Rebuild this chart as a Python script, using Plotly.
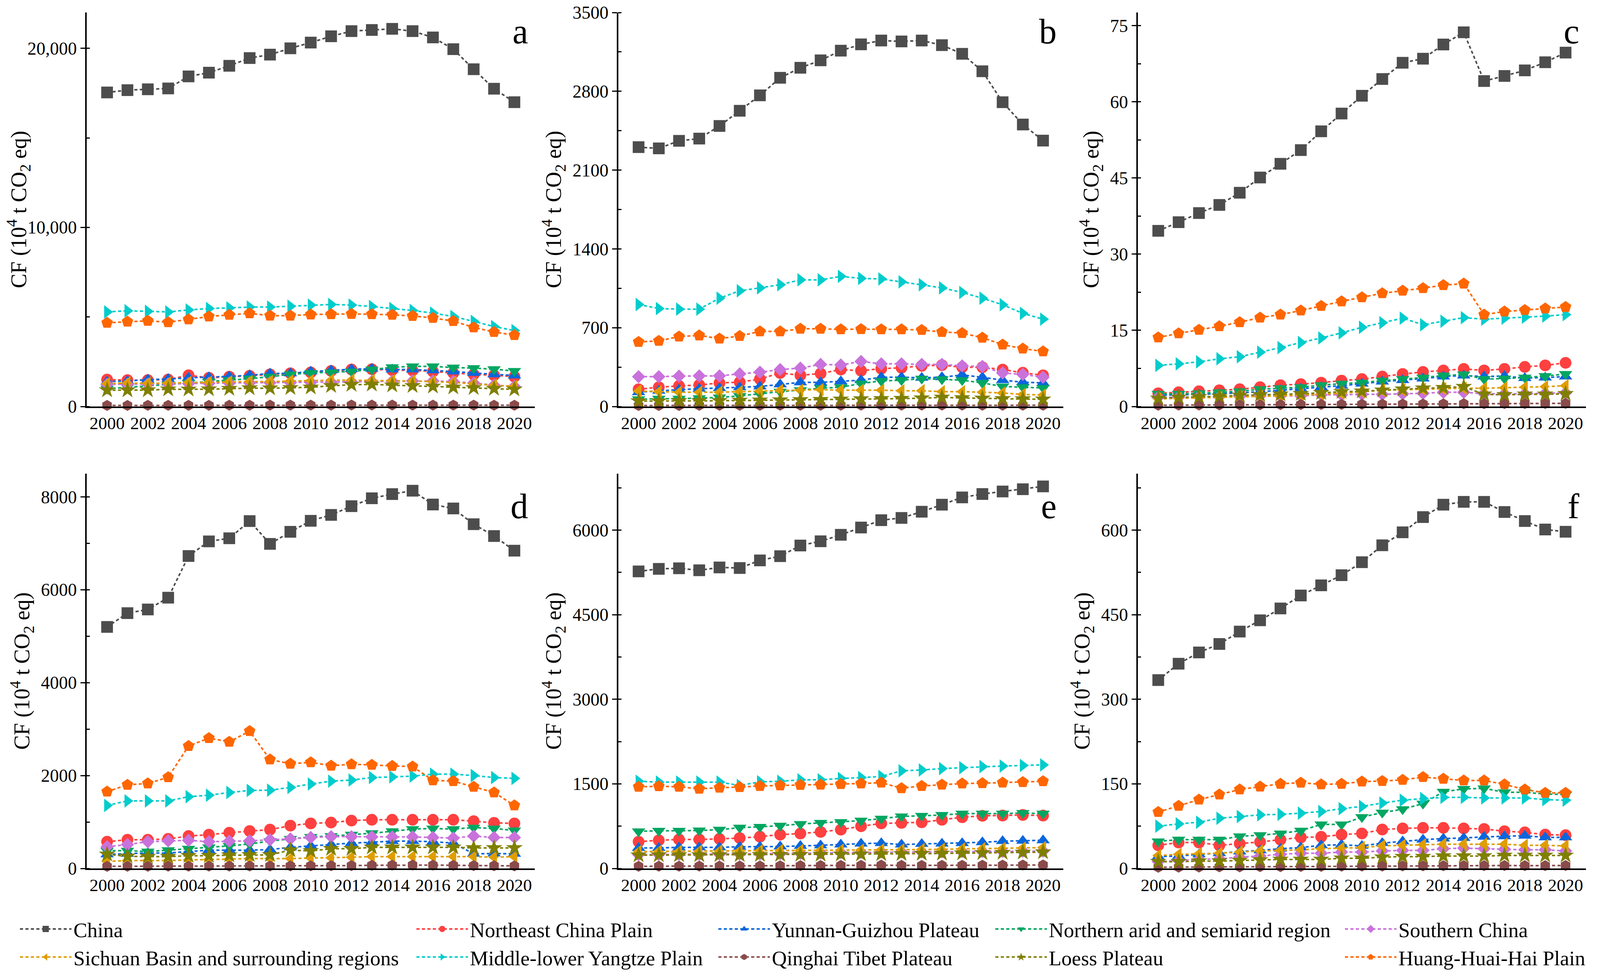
import plotly.graph_objects as go

W, H = 4117, 2502

YEARS = list(range(2000, 2021))

REGIONS = [
    "China", "Northeast China Plain", "Yunnan-Guizhou Plateau",
    "Northern arid and semiarid region", "Southern China",
    "Sichuan Basin and surrounding regions", "Middle-lower Yangtze Plain",
    "Qinghai Tibet Plateau", "Loess Plateau", "Huang-Huai-Hai Plain",
]

COLORS = {
    "China": "#4D4D4D",
    "Northeast China Plain": "#FF4040",
    "Yunnan-Guizhou Plateau": "#0A66DC",
    "Northern arid and semiarid region": "#00A661",
    "Southern China": "#C972DC",
    "Sichuan Basin and surrounding regions": "#DF9D00",
    "Middle-lower Yangtze Plain": "#00CCCC",
    "Qinghai Tibet Plateau": "#8A4B4B",
    "Loess Plateau": "#7F7F00",
    "Huang-Huai-Hai Plain": "#FF6600",
}

SYMBOLS = {
    "China": "square",
    "Northeast China Plain": "circle",
    "Yunnan-Guizhou Plateau": "triangle-up",
    "Northern arid and semiarid region": "triangle-down",
    "Southern China": "diamond",
    "Sichuan Basin and surrounding regions": "triangle-left",
    "Middle-lower Yangtze Plain": "triangle-right",
    "Qinghai Tibet Plateau": "hexagon",
    "Loess Plateau": "star",
    "Huang-Huai-Hai Plain": "pentagon",
}

SIZES = {
    "square": 30, "circle": 30, "triangle-up": 30, "triangle-down": 30,
    "diamond": 26, "triangle-left": 30, "triangle-right": 30,
    "hexagon": 28, "star": 32, "pentagon": 31,
}

# ---------------- panel a ----------------
PANEL_A = {
    "China": [17536, 17664, 17712, 17760, 18432, 18640, 19024, 19456, 19648, 20000, 20320,
              20672, 20960, 21024, 21088, 20960, 20608, 19952, 18832, 17744, 16992],
    "Northeast China Plain": [1504, 1472, 1472, 1504, 1744, 1600, 1664, 1712, 1792, 1856, 1904,
                              1984, 2064, 2080, 2032, 2016, 1952, 1872, 1792, 1744, 1664],
    "Yunnan-Guizhou Plateau": [1392, 1424, 1504, 1536, 1600, 1632, 1680, 1744, 1840, 1856, 1952,
                               2016, 2080, 2112, 2064, 2064, 2016, 1952, 1872, 1792, 1728],
    "Northern arid and semiarid region": [992, 1072, 1152, 1232, 1312, 1392, 1472, 1552, 1664, 1792, 1872,
                                          1904, 1952, 2064, 2192, 2240, 2240, 2176, 2144, 2080, 1984],
    "Southern China": [1232, 1240, 1250, 1260, 1280, 1300, 1310, 1320, 1330, 1340, 1345,
                       1360, 1380, 1400, 1410, 1424, 1420, 1392, 1312, 1190, 1120],
    "Sichuan Basin and surrounding regions": [1280, 1312, 1290, 1310, 1344, 1344, 1376, 1390, 1392, 1424, 1440,
                                              1472, 1470, 1445, 1440, 1424, 1390, 1344, 1264, 1184, 1120],
    "Middle-lower Yangtze Plain": [5280, 5344, 5312, 5280, 5392, 5472, 5504, 5552, 5552, 5600, 5664,
                                   5696, 5664, 5584, 5472, 5360, 5216, 5024, 4752, 4464, 4240],
    "Qinghai Tibet Plateau": [60, 62, 63, 64, 66, 68, 70, 72, 74, 75, 77,
                              78, 80, 80, 80, 79, 78, 76, 74, 72, 70],
    "Loess Plateau": [912, 910, 915, 960, 958, 965, 992, 1024, 1020, 1040, 1072,
                      1152, 1216, 1232, 1184, 1152, 1120, 1072, 1040, 992, 960],
    "Huang-Huai-Hai Plain": [4672, 4736, 4784, 4704, 4864, 5024, 5120, 5200, 5072, 5072, 5136,
                             5152, 5168, 5152, 5120, 5056, 4944, 4768, 4416, 4160, 3984],
}

# ---------------- panel b ----------------
PANEL_B = {
    "China": [2304, 2293, 2360, 2380, 2492, 2627, 2764, 2920, 3009, 3075, 3161,
              3217, 3251, 3243, 3251, 3210, 3133, 2978, 2703, 2505, 2362],
    "Northeast China Plain": [153, 171, 183, 191, 209, 216, 244, 298, 277, 293, 328,
                              318, 336, 344, 361, 367, 349, 349, 328, 300, 277],
    "Yunnan-Guizhou Plateau": [127, 140, 150, 158, 163, 171, 178, 196, 214, 214, 224,
                               234, 260, 260, 255, 260, 280, 260, 234, 216, 209],
    "Northern arid and semiarid region": [64, 69, 69, 74, 81, 94, 112, 132, 145, 163, 171,
                                          204, 227, 234, 247, 242, 234, 209, 178, 171, 165],
    "Southern China": [265, 265, 270, 272, 272, 290, 305, 328, 341, 374, 369,
                       400, 379, 379, 374, 374, 361, 356, 298, 285, 260],
    "Sichuan Basin and surrounding regions": [137, 132, 127, 127, 127, 132, 137, 143, 145, 150, 145,
                                              145, 145, 140, 140, 132, 132, 127, 120, 107, 102],
    "Middle-lower Yangtze Plain": [906, 870, 865, 865, 962, 1028, 1054, 1082, 1125, 1125, 1156,
                                   1138, 1133, 1107, 1082, 1054, 1013, 962, 904, 827, 776],
    "Qinghai Tibet Plateau": [9, 9, 9, 10, 10, 10, 10, 11, 11, 11, 11,
                              12, 12, 12, 12, 12, 12, 11, 11, 11, 11],
    "Loess Plateau": [48, 48, 49, 50, 51, 53, 55, 57, 58, 60, 64,
                      66, 68, 70, 74, 81, 76, 72, 68, 66, 64],
    "Huang-Huai-Hai Plain": [573, 583, 621, 631, 603, 626, 667, 667, 690, 690, 685,
                             687, 685, 685, 680, 662, 652, 611, 550, 514, 489],
}

# ---------------- panel c ----------------
PANEL_C = {
    "China": [34.6, 36.3, 38.1, 39.7, 42.1, 45.1, 47.8, 50.5, 54.2, 57.7, 61.2,
              64.5, 67.7, 68.5, 71.3, 73.7, 64.1, 65.1, 66.2, 67.8, 69.7],
    "Northeast China Plain": [2.6, 2.8, 3.0, 3.2, 3.4, 3.8, 4.2, 4.4, 4.7, 5.1, 5.4,
                              5.9, 6.4, 6.8, 7.1, 7.4, 7.1, 7.4, 7.8, 8.1, 8.6],
    "Yunnan-Guizhou Plateau": [2.2, 2.3, 2.4, 2.5, 2.7, 2.9, 3.2, 3.5, 3.8, 4.1, 4.5,
                               4.9, 5.2, 5.5, 5.9, 6.1, 5.9, 6.0, 5.6, 5.7, 5.9],
    "Northern arid and semiarid region": [2.5, 2.5, 2.6, 2.8, 3.0, 3.4, 3.6, 3.8, 4.2, 4.5, 4.7,
                                          5.1, 5.4, 5.7, 6.1, 6.3, 5.4, 5.5, 5.7, 6.0, 6.4],
    "Southern China": [1.8, 1.8, 1.9, 1.9, 2.0, 2.1, 2.1, 2.1, 2.3, 2.3, 2.4,
                       2.4, 2.5, 2.6, 2.8, 2.8, 2.5, 2.5, 2.5, 2.6, 2.7],
    "Sichuan Basin and surrounding regions": [1.5, 1.6, 1.7, 1.8, 1.9, 2.0, 2.1, 2.3, 2.4, 2.6, 2.9,
                                              3.2, 3.3, 3.4, 3.5, 3.6, 3.6, 3.7, 3.8, 3.9, 4.1],
    "Middle-lower Yangtze Plain": [8.1, 8.4, 8.8, 9.4, 9.8, 10.7, 11.6, 12.6, 13.5, 14.5, 15.6,
                                   16.5, 17.4, 16.1, 16.8, 17.5, 17.2, 17.4, 17.6, 17.8, 18.1],
    "Qinghai Tibet Plateau": [0.25, 0.27, 0.28, 0.3, 0.32, 0.34, 0.36, 0.38, 0.4, 0.42, 0.44,
                              0.46, 0.48, 0.5, 0.52, 0.55, 0.55, 0.57, 0.58, 0.6, 0.62],
    "Loess Plateau": [1.6, 1.8, 1.9, 2.0, 2.2, 2.3, 2.4, 2.5, 2.7, 2.9, 3.0,
                      3.2, 3.4, 3.6, 3.7, 3.9, 2.4, 2.3, 2.4, 2.4, 2.5],
    "Huang-Huai-Hai Plain": [13.6, 14.4, 15.1, 15.8, 16.6, 17.5, 18.1, 18.9, 19.8, 20.7, 21.5,
                             22.3, 22.8, 23.3, 23.9, 24.2, 18.1, 18.7, 19.0, 19.3, 19.6],
}

# ---------------- panel d ----------------
PANEL_D = {
    "China": [5200, 5497, 5576, 5830, 6727, 7042, 7109, 7479, 6988, 7248, 7485,
              7612, 7800, 7970, 8060, 8133, 7836, 7751, 7412, 7157, 6842],
    "Northeast China Plain": [576, 618, 618, 636, 697, 727, 770, 806, 836, 921, 970,
                              988, 1030, 1048, 1048, 1048, 1048, 1048, 1018, 982, 970],
    "Yunnan-Guizhou Plateau": [303, 315, 333, 333, 364, 394, 394, 394, 406, 455, 485,
                               515, 545, 564, 588, 588, 576, 545, 315, 321, 315],
    "Northern arid and semiarid region": [382, 382, 364, 394, 424, 455, 485, 527, 588, 636, 679,
                                          697, 727, 758, 800, 848, 860, 848, 879, 860, 818],
    "Southern China": [467, 515, 576, 594, 606, 576, 588, 594, 618, 636, 667,
                       685, 685, 679, 679, 679, 667, 654, 697, 667, 667],
    "Sichuan Basin and surrounding regions": [151, 170, 170, 170, 182, 194, 200, 212, 212, 212, 224,
                                              230, 242, 255, 255, 255, 255, 255, 255, 242, 255],
    "Middle-lower Yangtze Plain": [1357, 1454, 1454, 1454, 1545, 1576, 1636, 1679, 1685, 1745, 1818,
                                   1879, 1903, 1957, 1970, 1988, 2030, 2030, 2000, 1957, 1939],
    "Qinghai Tibet Plateau": [45, 46, 47, 48, 49, 50, 51, 52, 53, 54, 56,
                              58, 62, 68, 72, 74, 72, 68, 62, 58, 55],
    "Loess Plateau": [303, 261, 255, 255, 273, 273, 285, 291, 291, 394, 376,
                      424, 424, 455, 455, 455, 455, 455, 442, 442, 442],
    "Huang-Huai-Hai Plain": [1654, 1800, 1830, 1963, 2636, 2806, 2727, 2957, 2345, 2254, 2285,
                             2212, 2242, 2230, 2206, 2194, 1897, 1879, 1757, 1636, 1357],
}

# ---------------- panel e ----------------
PANEL_E = {
    "China": [5267, 5312, 5322, 5287, 5337, 5327, 5462, 5537, 5726, 5801, 5916,
              6045, 6175, 6215, 6325, 6450, 6579, 6639, 6684, 6724, 6774],
    "Northeast China Plain": [474, 499, 514, 514, 524, 539, 564, 599, 619, 648, 688,
                              748, 798, 808, 818, 863, 908, 933, 938, 948, 938],
    "Yunnan-Guizhou Plateau": [364, 364, 374, 374, 374, 384, 384, 389, 399, 409, 424,
                               439, 449, 424, 434, 439, 449, 464, 484, 489, 499],
    "Northern arid and semiarid region": [658, 668, 668, 673, 688, 723, 738, 758, 788, 808, 823,
                                          848, 883, 923, 933, 948, 973, 973, 973, 983, 973],
    "Southern China": [245, 248, 250, 250, 252, 255, 258, 262, 268, 275, 280,
                       285, 290, 290, 292, 295, 298, 300, 302, 305, 308],
    "Sichuan Basin and surrounding regions": [300, 305, 305, 308, 310, 312, 315, 318, 320, 322, 325,
                                              328, 332, 330, 335, 340, 345, 350, 355, 362, 370],
    "Middle-lower Yangtze Plain": [1546, 1531, 1531, 1531, 1531, 1471, 1536, 1546, 1571, 1571, 1596,
                                   1611, 1631, 1731, 1746, 1771, 1786, 1806, 1816, 1826, 1836],
    "Qinghai Tibet Plateau": [38, 40, 40, 41, 42, 43, 44, 46, 50, 52, 54,
                              56, 58, 55, 54, 55, 56, 57, 58, 60, 62],
    "Loess Plateau": [235, 237, 238, 238, 240, 240, 242, 243, 245, 247, 250,
                      252, 255, 258, 262, 266, 270, 275, 280, 285, 290],
    "Huang-Huai-Hai Plain": [1447, 1457, 1447, 1412, 1432, 1442, 1462, 1471, 1481, 1486, 1496,
                             1506, 1521, 1422, 1462, 1486, 1506, 1511, 1521, 1531, 1546],
}

# ---------------- panel f ----------------
PANEL_F = {
    "China": [334, 363, 383, 398, 420, 440, 461, 484, 502, 520, 543,
              573, 596, 623, 645, 650, 650, 632, 616, 601, 597],
    "Northeast China Plain": [41, 46, 46, 41, 44, 47, 51, 55, 56, 60, 62,
                              69, 71, 72, 72, 71, 70, 66, 64, 60, 59],
    "Yunnan-Guizhou Plateau": [21, 22, 25, 27, 30, 32, 35, 37, 41, 42, 40,
                               45, 48, 51, 53, 54, 56, 57, 58, 55, 55],
    "Northern arid and semiarid region": [48, 51, 51, 51, 57, 59, 62, 67, 78, 78, 91,
                                          99, 105, 115, 136, 141, 142, 135, 135, 132, 131],
    "Southern China": [12, 14, 16, 17, 20, 22, 25, 27, 27, 29, 29,
                       31, 32, 32, 35, 36, 35, 34, 33, 33, 31],
    "Sichuan Basin and surrounding regions": [23, 25, 26, 27, 29, 31, 32, 33, 35, 36, 37,
                                              40, 41, 42, 43, 43, 43, 43, 41, 41, 40],
    "Middle-lower Yangtze Plain": [75, 79, 82, 89, 92, 95, 96, 98, 101, 106, 110,
                                   116, 121, 124, 126, 126, 125, 125, 125, 122, 121],
    "Qinghai Tibet Plateau": [2.1, 2.3, 2.4, 2.7, 2.8, 3.1, 3.2, 3.5, 3.6, 3.9, 4.1,
                              4.2, 4.5, 4.6, 4.9, 5.1, 5.0, 5.2, 5.0, 5.1, 5.2],
    "Loess Plateau": [12, 12, 13, 13, 14, 15, 16, 16, 16, 18, 18,
                      20, 21, 21, 22, 22, 22, 23, 23, 23, 23],
    "Huang-Huai-Hai Plain": [100, 111, 122, 131, 140, 145, 150, 152, 149, 150, 154,
                             155, 157, 162, 159, 156, 156, 149, 140, 134, 134],
}

PANELS = [
    ("a", PANEL_A, [0, 22000], 10000, 5000, ","),
    ("b", PANEL_B, [0, 3500], 700, 350, ""),
    ("c", PANEL_C, [0, 77.6], 15, 7.5, ""),
    ("d", PANEL_D, [0, 8500], 2000, 1000, ""),
    ("e", PANEL_E, [0, 7000], 1500, 750, ""),
    ("f", PANEL_F, [0, 700], 150, 75, ""),
]

# layout geometry in pixels
COL_PX = [(214, 1361), (1575, 2714), (2905, 4052)]
ROW_PX = [(24, 1033), (1205, 2216)]     # (top, bottom) from top of page
LETTER_Y_PX = [73, 1288]                # letter box middle, from top of page

FONT = "Liberation Serif, Times New Roman, Tinos, DejaVu Serif, serif"

LEGEND_OF = {
    "China": "legend", "Sichuan Basin and surrounding regions": "legend",
    "Northeast China Plain": "legend2", "Middle-lower Yangtze Plain": "legend2",
    "Yunnan-Guizhou Plateau": "legend3", "Qinghai Tibet Plateau": "legend3",
    "Northern arid and semiarid region": "legend4", "Loess Plateau": "legend4",
    "Southern China": "legend5", "Huang-Huai-Hai Plain": "legend5",
}
LEGEND_ORDER = ["China", "Sichuan Basin and surrounding regions",
                "Northeast China Plain", "Middle-lower Yangtze Plain",
                "Yunnan-Guizhou Plateau", "Qinghai Tibet Plateau",
                "Northern arid and semiarid region", "Loess Plateau",
                "Southern China", "Huang-Huai-Hai Plain"]
LEGEND_X_PX = [38, 1053, 1826, 2535, 3430]

fig = go.Figure()

annotations = []
for i, (letter, data, yr, dt, mdt, fmt) in enumerate(PANELS):
    r, c = divmod(i, 3)
    idx = "" if i == 0 else str(i + 1)
    xa, ya = "x" + idx, "y" + idx
    x0, x1 = COL_PX[c]
    top, bot = ROW_PX[r]
    xdom = [x0 / W, x1 / W]
    ydom = [(H - bot) / H, (H - top) / H]
    for name in REGIONS:
        sym = SYMBOLS[name]
        fig.add_trace(go.Scatter(
            x=YEARS, y=data[name], name=name, xaxis=xa, yaxis=ya,
            mode="lines+markers",
            line=dict(color=COLORS[name], width=4, dash="8px,6px"),
            marker=dict(symbol=sym, size=SIZES[sym], color=COLORS[name]),
            showlegend=(i == 0), legend=LEGEND_OF[name],
            legendrank=LEGEND_ORDER.index(name),
            cliponaxis=False,
        ))
    fig.layout["xaxis" + idx] = dict(
        domain=xdom, anchor=ya, range=[1999, 2021], tick0=2000, dtick=2,
        showline=True, linecolor="black", linewidth=4, mirror=False,
        ticks="", showgrid=False, zeroline=False, automargin=False,
        tickfont=dict(family=FONT, size=45, color="black"),
    )
    fig.layout["yaxis" + idx] = dict(
        domain=ydom, anchor=xa, range=yr, dtick=dt, tick0=0,
        showline=True, linecolor="black", linewidth=4, mirror=False,
        ticks="outside", ticklen=12, tickwidth=3, tickcolor="black",
        minor=dict(dtick=mdt, ticks="inside", ticklen=8, tickwidth=3, tickcolor="black"),
        showgrid=False, zeroline=False, tickformat=fmt, automargin=False,
        ticklabeloverflow="allow",
        tickfont=dict(family=FONT, size=46, color="black"),
        title=dict(text="CF (10<sup>4</sup> t CO<sub>2</sub> eq)",
                   font=dict(family=FONT, size=56, color="black"), standoff=12),
    )
    annotations.append(dict(
        text=letter, xref="paper", yref="paper",
        x=(x1 - 15) / W, y=(H - LETTER_Y_PX[r]) / H, xanchor="right", yanchor="middle",
        showarrow=False, font=dict(family=FONT, size=90, color="black"),
    ))

legend_common = dict(
    orientation="v", yanchor="top", xanchor="left", y=(H - 2330) / H,
    font=dict(family=FONT, size=53, color="black"),
    bgcolor="rgba(0,0,0,0)", borderwidth=0, itemwidth=132,
    tracegroupgap=0, traceorder="normal", itemclick=False,
)
layout_legends = {}
for k, lx in enumerate(LEGEND_X_PX):
    key = "legend" if k == 0 else "legend%d" % (k + 1)
    layout_legends[key] = dict(legend_common, x=lx / W)

fig.update_layout(
    width=W, height=H,
    margin=dict(l=0, r=0, t=0, b=0),
    paper_bgcolor="white", plot_bgcolor="white",
    font=dict(family=FONT, color="black"),
    annotations=annotations,
    showlegend=True,
    **layout_legends,
)

fig.write_html("out.html")
